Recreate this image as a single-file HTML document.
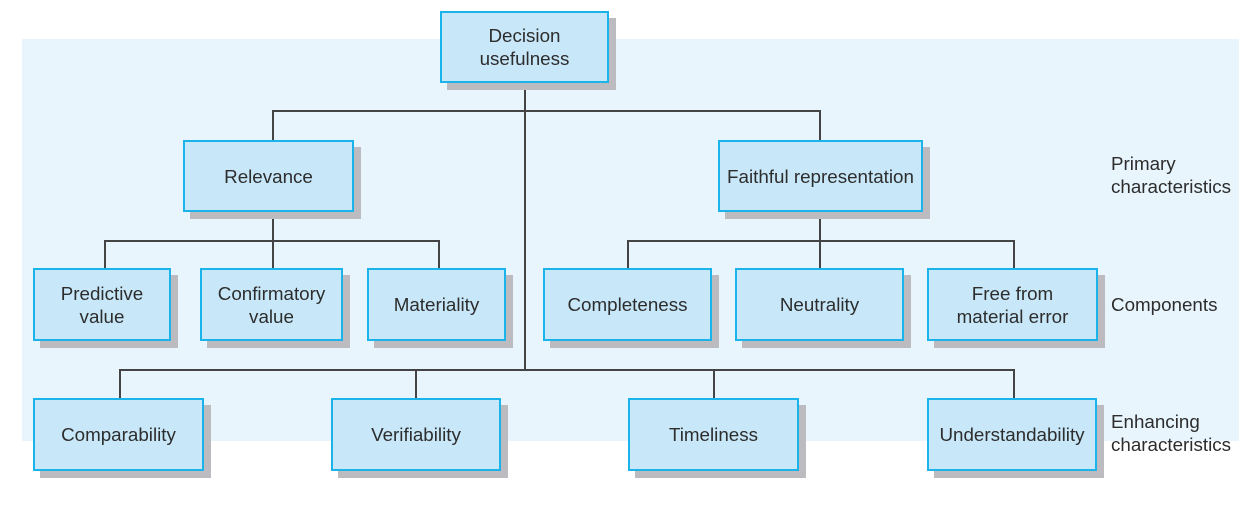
<!DOCTYPE html>
<html><head><style>
body{margin:0;width:1251px;height:525px;background:#fff;position:relative;overflow:hidden;font-family:"Liberation Sans",sans-serif;color:#2d2d2d}
.bg{position:absolute;left:22px;top:39px;width:1217px;height:402px;background:#e8f5fd}
.b{position:absolute;box-sizing:border-box;background:#c8e8f9;border:2.5px solid #1ab4ea;display:flex;align-items:center;justify-content:center;text-align:center;font-size:18.8px;line-height:23px;color:#2d2d2d;box-shadow:7px 7px 0 #bcbcc0;white-space:nowrap}
.l{position:absolute;background:#444}
.t{position:absolute;left:1111px;font-size:18.8px;line-height:23px;color:#2d2d2d;white-space:nowrap}
</style></head><body>
<div class="bg"></div>
<div class="l" style="left:524px;top:82px;width:1.5px;height:288px"></div>
<div class="l" style="left:272px;top:110px;width:549px;height:1.5px"></div>
<div class="l" style="left:272px;top:110px;width:1.5px;height:30px"></div>
<div class="l" style="left:819px;top:110px;width:1.5px;height:30px"></div>
<div class="l" style="left:272px;top:211px;width:1.5px;height:30px"></div>
<div class="l" style="left:104px;top:240px;width:336px;height:1.5px"></div>
<div class="l" style="left:104px;top:240px;width:1.5px;height:28px"></div>
<div class="l" style="left:272px;top:240px;width:1.5px;height:28px"></div>
<div class="l" style="left:438px;top:240px;width:1.5px;height:28px"></div>
<div class="l" style="left:819px;top:211px;width:1.5px;height:57px"></div>
<div class="l" style="left:627px;top:240px;width:387px;height:1.5px"></div>
<div class="l" style="left:627px;top:240px;width:1.5px;height:28px"></div>
<div class="l" style="left:1013px;top:240px;width:1.5px;height:28px"></div>
<div class="l" style="left:119px;top:369px;width:895px;height:1.5px"></div>
<div class="l" style="left:119px;top:369px;width:1.5px;height:29px"></div>
<div class="l" style="left:415px;top:369px;width:1.5px;height:29px"></div>
<div class="l" style="left:713px;top:369px;width:1.5px;height:29px"></div>
<div class="l" style="left:1013px;top:369px;width:1.5px;height:29px"></div>
<div class="b" style="left:440px;top:11px;width:169px;height:72px">Decision<br>usefulness</div>
<div class="b" style="left:183px;top:140px;width:171px;height:72px">Relevance</div>
<div class="b" style="left:718px;top:140px;width:205px;height:72px">Faithful representation</div>
<div class="b" style="left:33px;top:268px;width:138px;height:73px">Predictive<br>value</div>
<div class="b" style="left:200px;top:268px;width:143px;height:73px">Confirmatory<br>value</div>
<div class="b" style="left:367px;top:268px;width:139px;height:73px">Materiality</div>
<div class="b" style="left:543px;top:268px;width:169px;height:73px">Completeness</div>
<div class="b" style="left:735px;top:268px;width:169px;height:73px">Neutrality</div>
<div class="b" style="left:927px;top:268px;width:171px;height:73px">Free from<br>material error</div>
<div class="b" style="left:33px;top:398px;width:171px;height:73px">Comparability</div>
<div class="b" style="left:331px;top:398px;width:170px;height:73px">Verifiability</div>
<div class="b" style="left:628px;top:398px;width:171px;height:73px">Timeliness</div>
<div class="b" style="left:927px;top:398px;width:170px;height:73px">Understandability</div>
<div class="t" style="top:152px">Primary<br>characteristics</div>
<div class="t" style="top:293px">Components</div>
<div class="t" style="top:410px">Enhancing<br>characteristics</div>
</body></html>
